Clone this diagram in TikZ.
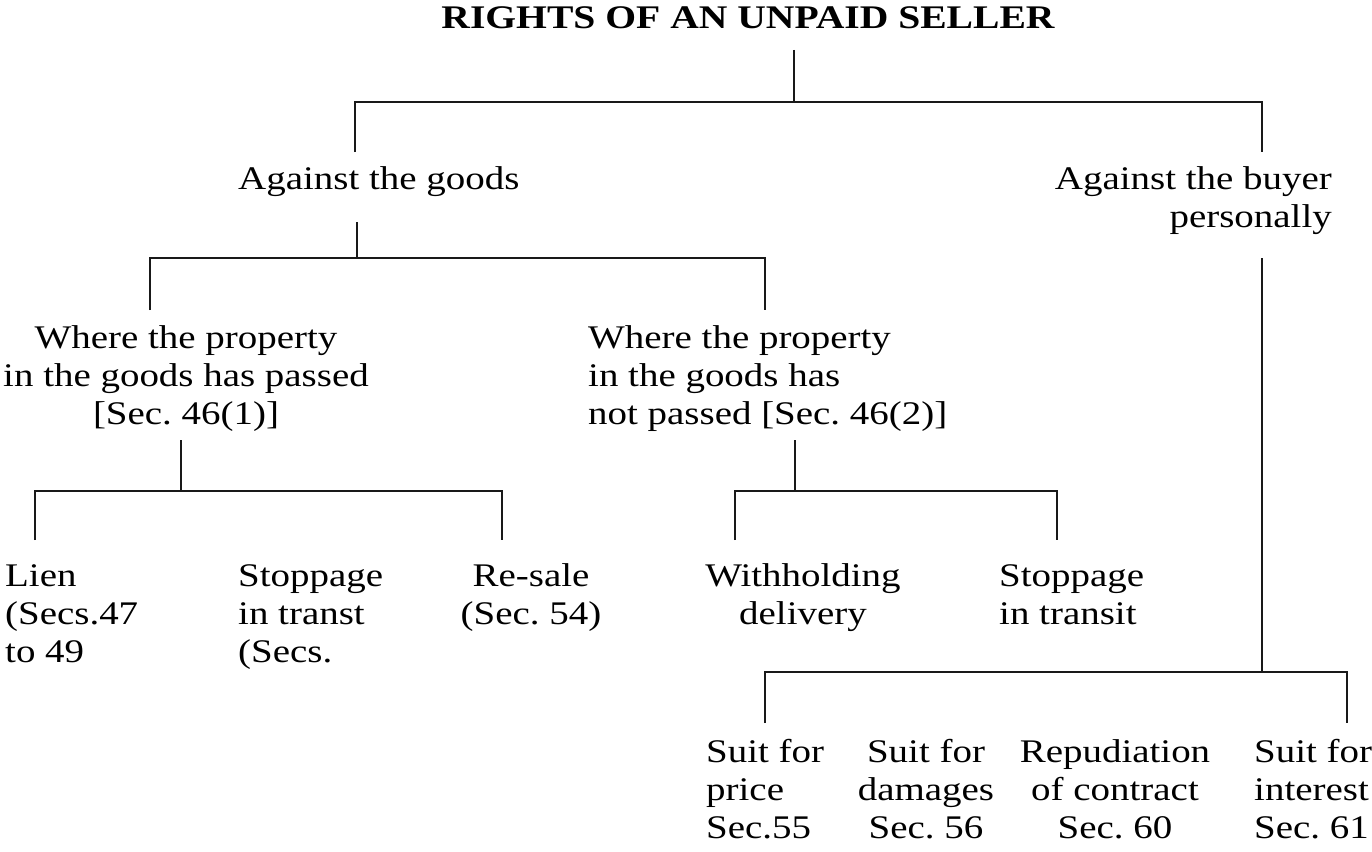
\documentclass[tikz,border=0pt]{standalone}
\usepackage{fontspec}
\setmainfont{Liberation Serif}[FakeStretch=1.18]
\newfontfamily\titlefont{Liberation Serif}[FakeStretch=1.2]
\frenchspacing
\begin{document}
\begin{tikzpicture}[x=1pt,y=-1pt,
  link/.style={line width=2pt, line join=miter, draw=black!90},
  lbl/.style={inner sep=0pt, font=\fontsize{33}{38}\selectfont\frenchspacing},
  ttl/.style={inner sep=0pt, font=\titlefont\bfseries\fontsize{33}{38}\selectfont}]
\useasboundingbox (0,0) rectangle (1372,851);
% texts (base anchor = baseline of the last line)
\node[ttl, anchor=base] (title) at (748,29) {RIGHTS OF AN UNPAID SELLER};
\node[lbl, anchor=base west] (goods) at (238,189) {Against the goods};
\node[lbl, anchor=base east, align=right] (buyer) at (1332,227) {Against the buyer\\personally};
\node[lbl, anchor=base, align=center] (passed) at (186,424) {Where the property\\in the goods has passed\\{[}Sec. 46(1){]}};
\node[lbl, anchor=base west, align=left] (notpassed) at (588,424) {Where the property\\in the goods has\\not passed {[}Sec. 46(2){]}};
\node[lbl, anchor=base west, align=left] (lien) at (5,662) {Lien\\(Secs.47\\to 49};
\node[lbl, anchor=base west, align=left] (stop1) at (238,662) {Stoppage\\in transt\\(Secs.};
\node[lbl, anchor=base, align=center] (resale) at (531,624) {Re-sale\\(Sec. 54)};
\node[lbl, anchor=base, align=center] (withhold) at (803,624) {Withholding\\delivery};
\node[lbl, anchor=base west, align=left] (stop2) at (999,624) {Stoppage\\in transit};
\node[lbl, anchor=base west, align=left] (price) at (706,838) {Suit for\\price\\Sec.55};
\node[lbl, anchor=base, align=center] (damages) at (926,838) {Suit for\\damages\\Sec. 56};
\node[lbl, anchor=base, align=center] (repud) at (1115,838) {Repudiation\\of contract\\Sec. 60};
\node[lbl, anchor=base west, align=left] (interest) at (1254,838) {Suit for\\interest\\Sec. 61};
% junction coordinates
\coordinate (r0) at (794,50);  \coordinate (r1) at (794,102);
\coordinate (ga) at (355,102); \coordinate (gb) at (355,152);
\coordinate (ba) at (1262,102); \coordinate (bb) at (1262,152);
\coordinate (g0) at (357,222); \coordinate (g1) at (357,258);
\coordinate (pa) at (150,258); \coordinate (pb) at (150,310);
\coordinate (na) at (765,258); \coordinate (nb) at (765,310);
\coordinate (p0) at (181,440); \coordinate (p1) at (181,491);
\coordinate (la) at (35,491);  \coordinate (lb) at (35,540);
\coordinate (ra) at (502,491); \coordinate (rb) at (502,540);
\coordinate (n0) at (795,440); \coordinate (n1) at (795,491);
\coordinate (wa) at (735,491); \coordinate (wb) at (735,540);
\coordinate (sa) at (1057,491); \coordinate (sb) at (1057,540);
\coordinate (b0) at (1262,258); \coordinate (b1) at (1262,672);
\coordinate (pr) at (765,672); \coordinate (prb) at (765,723);
\coordinate (it) at (1347,672); \coordinate (itb) at (1347,723);
% connectors
\draw[link] (r0) -- (r1);
\draw[link] (gb) -- (ga) -- (ba) -- (bb);
\draw[link] (g0) -- (g1);
\draw[link] (pb) -- (pa) -- (na) -- (nb);
\draw[link] (p0) -- (p1);
\draw[link] (lb) -- (la) -- (ra) -- (rb);
\draw[link] (n0) -- (n1);
\draw[link] (wb) -- (wa) -- (sa) -- (sb);
\draw[link] (b0) -- (b1);
\draw[link] (prb) -- (pr) -- (it) -- (itb);
\end{tikzpicture}
\end{document}
